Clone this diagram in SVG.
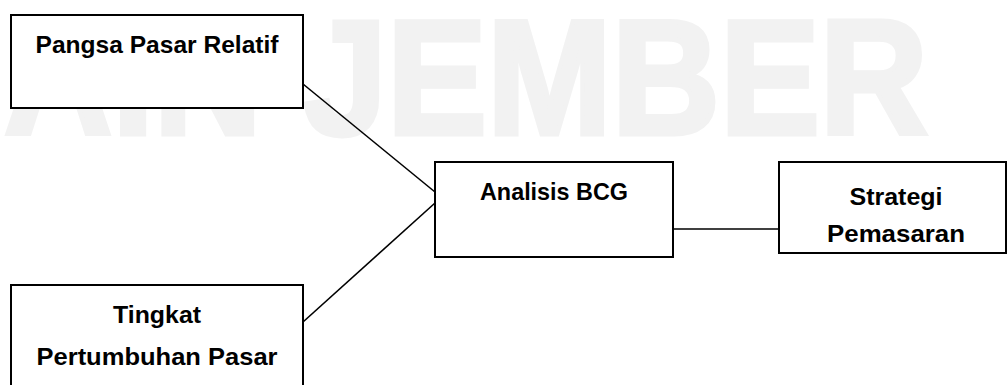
<svg xmlns="http://www.w3.org/2000/svg" width="1008" height="385" viewBox="0 0 1008 385">
<style>
.box{fill:#fff;stroke:#000;stroke-width:2}
.lbl{font-family:"Liberation Sans",Arial,sans-serif;font-weight:bold;font-size:24px;fill:#000;text-anchor:middle}
.wm{font-family:"Liberation Sans",Arial,sans-serif;font-weight:bold;font-size:164px;fill:#f2f2f2;stroke:#f2f2f2;stroke-width:5;stroke-linejoin:miter}
.conn{stroke:#000;stroke-width:1.6;fill:none}
</style>
<rect width="1008" height="385" fill="#fff"/>
<g id="watermark">
<text class="wm" x="4" y="134" textLength="924" lengthAdjust="spacingAndGlyphs">AIN JEMBER</text>
</g>
<g id="connectors">
<line class="conn" x1="303" y1="84" x2="435" y2="192"/>
<line class="conn" x1="303" y1="322" x2="435" y2="203"/>
<line class="conn" x1="673" y1="229" x2="779" y2="229"/>
</g>
<g id="node-pangsa">
<rect class="box" x="11" y="15" width="292" height="93"/>
<text class="lbl" x="157" y="53" textLength="243" lengthAdjust="spacingAndGlyphs">Pangsa Pasar Relatif</text>
</g>
<g id="node-tingkat">
<rect class="box" x="11" y="285" width="292" height="120"/>
<text class="lbl" x="157" y="323" textLength="88" lengthAdjust="spacingAndGlyphs">Tingkat</text>
<text class="lbl" x="157" y="365" textLength="241" lengthAdjust="spacingAndGlyphs">Pertumbuhan Pasar</text>
</g>
<g id="node-bcg">
<rect class="box" x="435" y="162" width="238" height="95"/>
<text class="lbl" x="554" y="200" textLength="148" lengthAdjust="spacingAndGlyphs">Analisis BCG</text>
</g>
<g id="node-strategi">
<rect class="box" x="779" y="162" width="227" height="91"/>
<text class="lbl" x="896" y="205" textLength="93" lengthAdjust="spacingAndGlyphs">Strategi</text>
<text class="lbl" x="896" y="242" textLength="138" lengthAdjust="spacingAndGlyphs">Pemasaran</text>
</g>
</svg>
